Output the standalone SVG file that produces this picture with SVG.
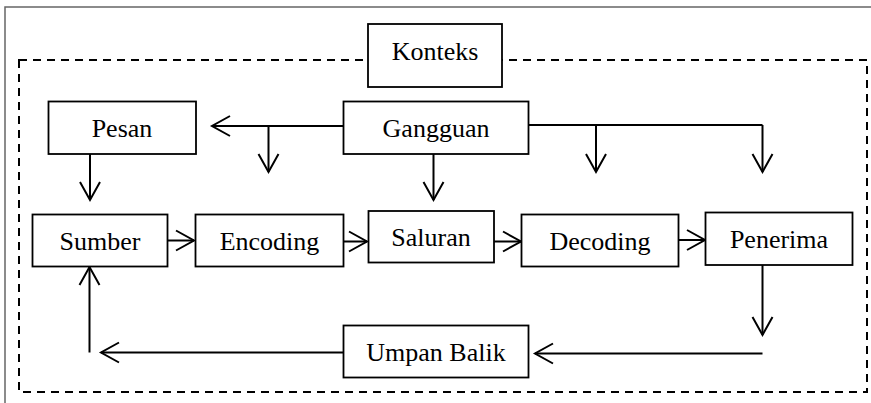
<svg xmlns="http://www.w3.org/2000/svg" width="871" height="403" viewBox="0 0 871 403">
<style>
.box{fill:#fff;stroke:#000;stroke-width:1.8}
.lbl{font-family:"Liberation Serif","Times New Roman",serif;font-size:26px;fill:#000;text-anchor:middle}
.ln{fill:none;stroke:#000;stroke-width:2}
.arr{fill:none;stroke:#000;stroke-width:2;marker-end:url(#ah)}
</style>
<defs>
<marker id="ah" markerUnits="userSpaceOnUse" markerWidth="26" markerHeight="26" viewBox="-22 -13 26 26" refX="0" refY="0" orient="auto">
<path d="M-18,-10 L0,0 L-18,10" fill="none" stroke="#000" stroke-width="2"/>
</marker>
</defs>
<rect width="871" height="403" fill="#fff"/>
<g id="frame">
<path d="M5,403 V7 H871" fill="none" stroke="#666" stroke-width="1.5"/>
</g>
<g id="context-area">
<rect x="19" y="60" width="848" height="332" fill="none" stroke="#000" stroke-width="2" stroke-dasharray="8,6"/>
</g>
<g id="connectors">
<path class="arr" d="M343,126 H212"/>
<path class="arr" d="M268.5,126 V172"/>
<path class="ln" d="M529,125 H762.5"/>
<path class="arr" d="M596,125 V172"/>
<path class="arr" d="M762.5,125 V172"/>
<path class="arr" d="M433.5,154 V200"/>
<path class="arr" d="M90,154 V200"/>
<path class="arr" d="M167,240.5 H194"/>
<path class="arr" d="M344,241.5 H367"/>
<path class="arr" d="M494,241.5 H521"/>
<path class="arr" d="M679,240 H705"/>
<path class="arr" d="M762.5,265 V335"/>
<path class="arr" d="M762.5,353.5 H535"/>
<path class="arr" d="M343,352.5 H101"/>
<path class="arr" d="M89.5,352.5 V267"/>
</g>
<g id="konteks">
<rect class="box" x="368" y="24" width="134" height="63"/>
<text class="lbl" x="435" y="60">Konteks</text>
</g>
<g id="pesan">
<rect class="box" x="48.5" y="101.5" width="147.5" height="52.5"/>
<text class="lbl" x="122" y="137">Pesan</text>
</g>
<g id="gangguan">
<rect class="box" x="343.5" y="101.5" width="185" height="52.5"/>
<text class="lbl" x="436" y="137">Gangguan</text>
</g>
<g id="sumber">
<rect class="box" x="32.5" y="214.5" width="135" height="52"/>
<text class="lbl" x="100" y="250">Sumber</text>
</g>
<g id="encoding">
<rect class="box" x="195.5" y="214.5" width="148" height="52"/>
<text class="lbl" x="269.5" y="250">Encoding</text>
</g>
<g id="saluran">
<rect class="box" x="368.5" y="211" width="125.5" height="51.5"/>
<text class="lbl" x="431" y="246">Saluran</text>
</g>
<g id="decoding">
<rect class="box" x="521.5" y="214.5" width="157" height="52"/>
<text class="lbl" x="600" y="250">Decoding</text>
</g>
<g id="penerima">
<rect class="box" x="705.5" y="212.5" width="147" height="52.5"/>
<text class="lbl" x="779" y="248">Penerima</text>
</g>
<g id="umpan-balik">
<rect class="box" x="343.5" y="325.5" width="185" height="52"/>
<text class="lbl" x="436" y="360.5">Umpan Balik</text>
</g>
</svg>
